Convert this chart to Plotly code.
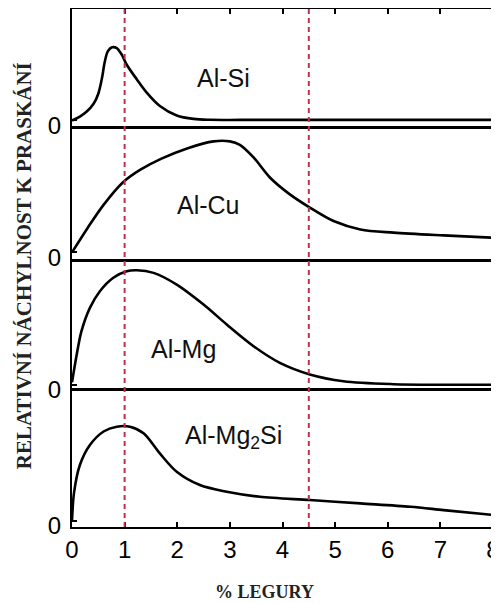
import plotly.graph_objects as go

# ---- data ----
alsi_x = [0, 0.15, 0.28, 0.41, 0.50, 0.57, 0.62, 0.68, 0.76, 0.85, 0.945, 1.04, 1.23, 1.42, 1.67, 1.99, 2.31, 2.62, 3.5, 5.0, 6.5, 8.0]
alsi_y = [0, 0.035, 0.08, 0.15, 0.24, 0.38, 0.52, 0.62, 0.656, 0.65, 0.59, 0.50, 0.37, 0.25, 0.13, 0.045, 0.014, 0.006, 0.005, 0.005, 0.005, 0.005]

alcu_x = [0, 0.3, 0.6, 0.975, 1.3, 1.7, 2.2, 2.69, 3.0, 3.19, 3.45, 3.76, 4.14, 4.52, 4.97, 5.48, 6.11, 7.06, 8.0]
alcu_y = [0, 0.2, 0.385, 0.57, 0.67, 0.76, 0.845, 0.90, 0.90, 0.872, 0.77, 0.607, 0.47, 0.363, 0.254, 0.186, 0.16, 0.1375, 0.119]

almg_x = [0, 0.09, 0.18, 0.34, 0.53, 0.785, 1.04, 1.23, 1.55, 1.99, 2.5, 2.94, 3.45, 3.95, 4.52, 5.16, 6.11, 7.0, 8.0]
almg_y = [0.02, 0.246, 0.435, 0.624, 0.759, 0.868, 0.921, 0.929, 0.908, 0.813, 0.651, 0.489, 0.313, 0.178, 0.084, 0.029, 0.005, 0.0, 0.0]

almg2si_x = [0, 0.04, 0.15, 0.34, 0.60, 0.85, 1.10, 1.36, 1.67, 1.99, 2.43, 2.94, 3.57, 4.52, 5.48, 6.43, 7.06, 8.0]
almg2si_y = [0, 0.22, 0.43, 0.585, 0.69, 0.727, 0.727, 0.676, 0.52, 0.378, 0.275, 0.223, 0.184, 0.159, 0.133, 0.107, 0.081, 0.043]

series_names = ["Al-Si", "Al-Cu", "Al-Mg", "Al-Mg<sub>2</sub>Si"]
x_ticks = [0, 1, 2, 3, 4, 5, 6, 7, 8]
marker_lines = [1, 4.5]

# label positions (data units within each panel)
label_x = [2.87, 2.59, 2.11, 3.06]
label_y = [0.38, 0.38, 0.29, 0.65]

series = [(alsi_x, alsi_y), (alcu_x, alcu_y), (almg_x, almg_y), (almg2si_x, almg2si_y)]

# panel domains (top to bottom)
domains = [[0.7741, 1.0], [0.5183, 0.7683], [0.2674, 0.5125], [0.0, 0.2616]]
yranges = [[-0.05, 1.0], [-0.05, 1.0], [-0.03, 1.0], [-0.05, 1.0]]

fig = go.Figure()
for i, (xs, ys) in enumerate(series):
    n = i + 1
    fig.add_trace(go.Scatter(
        x=xs, y=ys, mode="lines",
        line=dict(color="black", width=2.6, shape="spline", smoothing=0.9),
        xaxis="x" if n == 1 else f"x{n}", yaxis="y" if n == 1 else f"y{n}",
        showlegend=False, hoverinfo="skip"))

tick_font = dict(family="Liberation Sans, Arial, sans-serif", size=24, color="black")
# the page body has an 8px margin, so the figure is sized to fit the window after that offset
layout = dict(
    width=491, height=595,
    margin=dict(l=64, r=6, t=1, b=76),
    paper_bgcolor="white", plot_bgcolor="white",
    showlegend=False,
)
for i in range(4):
    n = i + 1
    xa = "xaxis" if n == 1 else f"xaxis{n}"
    ya = "yaxis" if n == 1 else f"yaxis{n}"
    yref = "y" if n == 1 else f"y{n}"
    xref = "x" if n == 1 else f"x{n}"
    xaxis = dict(range=[0, 8], domain=[0, 1], anchor=yref, showgrid=False, zeroline=False,
                 showline=True, linecolor="black", linewidth=2, mirror=True,
                 tickvals=x_ticks, fixedrange=True, automargin=False)
    if n == 1:
        xaxis.update(side="top", ticks="inside", ticklen=5, tickwidth=2, tickcolor="black",
                     showticklabels=False)
    elif n == 4:
        xaxis.update(ticks="inside", ticklen=5, tickwidth=2, tickcolor="black",
                     showticklabels=True, tickfont=tick_font, ticklabelstandoff=0,
                     ticklabeloverflow="allow")
    else:
        xaxis.update(ticks="", showticklabels=False)
    if n != 1:
        xaxis["matches"] = "x"
    layout[xa] = xaxis
    layout[ya] = dict(domain=domains[i], range=yranges[i], anchor=xref, showgrid=False,
                      zeroline=False, showline=True, linecolor="black", linewidth=2,
                      mirror=True, ticks="inside", ticklen=5, tickwidth=2, tickcolor="black",
                      tickvals=[0], ticktext=["0"], tickfont=tick_font, automargin=False,
                      ticklabelstandoff=4, ticklabelshift=5, fixedrange=True)

fig.update_layout(**layout)

# dashed reference lines across all panels
for xv in marker_lines:
    fig.add_shape(type="line", xref="x4", yref="paper", x0=xv, x1=xv, y0=0, y1=1,
                  line=dict(color="#c0304e", width=2, dash="5px,4px"), layer="above")

# panel labels
for i, name in enumerate(series_names):
    n = i + 1
    fig.add_annotation(text=name, x=label_x[i], y=label_y[i],
                       xref="x" if n == 1 else f"x{n}", yref="y" if n == 1 else f"y{n}",
                       showarrow=False,
                       font=dict(family="Liberation Sans, Arial, sans-serif", size=25, color="#111"))

# axis titles
fig.add_annotation(text="<b>% LEGURY</b>", xref="paper", yref="paper", x=0.458, y=-0.125,
                   xanchor="center", yanchor="middle", showarrow=False,
                   font=dict(family="Liberation Serif, Times New Roman, serif", size=18, color="#222"))
fig.add_annotation(text="<b>RELATIVNÍ NÁCHYLNOST K PRASKÁNÍ</b>", textangle=-90,
                   xref="paper", yref="paper", x=-0.112, y=0.505, xanchor="center", yanchor="middle",
                   showarrow=False,
                   font=dict(family="Liberation Serif, Times New Roman, serif", size=21, color="#222"))

fig.write_html("out.html")
